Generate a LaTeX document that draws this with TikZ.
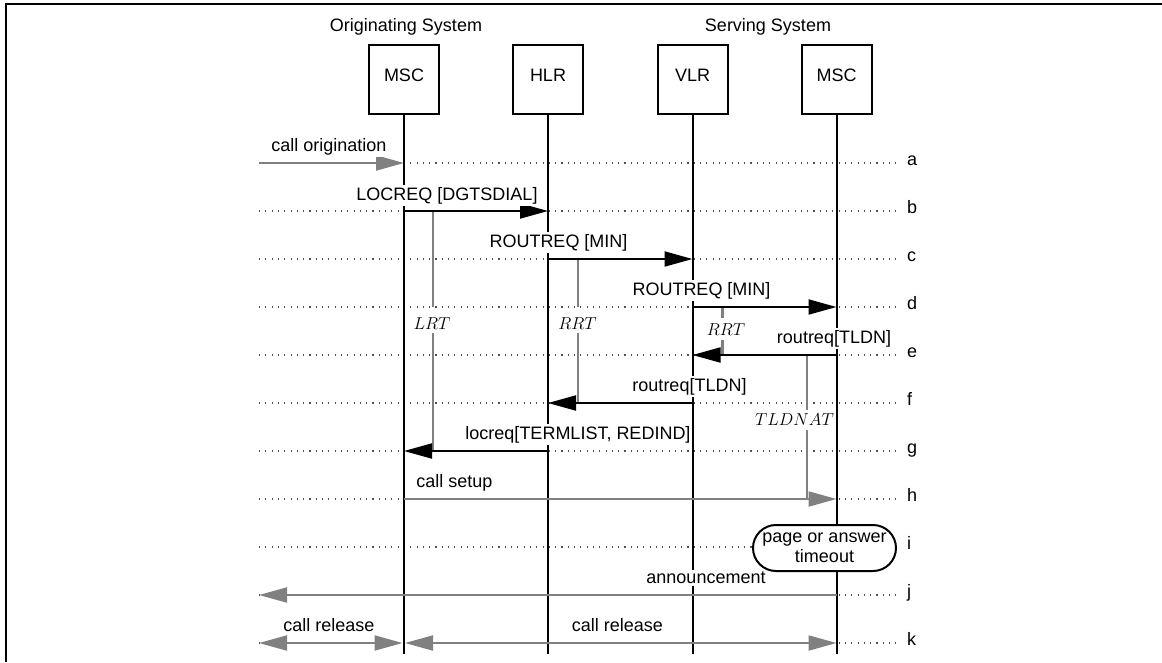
\documentclass[tikz,border=0pt]{standalone}
\usepackage{fontspec}
\setmainfont{Liberation Sans}
\usetikzlibrary{arrows.meta}
\definecolor{arrgray}{HTML}{808080}
\definecolor{dotgray}{HTML}{505050}
\begin{document}
\begin{tikzpicture}[x=1pt,y=-1pt,
  every node/.style={font=\fontsize{18}{20}\selectfont},
  ent/.style={draw, line width=2pt, fill=white, minimum width=70pt, minimum height=69pt,
              inner sep=0pt, text height=13pt, text depth=9pt},
  hdr/.style={anchor=base, inner sep=0pt},
  life/.style={line width=2pt},
  msg/.style={line width=2pt, -{Triangle[length=28pt,width=15pt]}},
  gmsg/.style={line width=2pt, draw=arrgray, -{Triangle[length=28pt,width=15pt]}},
  gboth/.style={line width=2pt, draw=arrgray, {Triangle[length=28pt,width=15pt]}-{Triangle[length=28pt,width=15pt]}},
  dotline/.style={line width=1.1pt, draw=dotgray, dash pattern=on 1.1pt off 5.2pt},
  rowlbl/.style={anchor=mid west, inner sep=0pt},
  lbl/.style={anchor=base, fill=white, inner xsep=1pt, inner ysep=2pt},
  timer/.style={line width=2pt, draw=arrgray},
  tlbl/.style={inner sep=0pt, font=\fontsize{16}{18}\selectfont},
  tobox/.style={draw, line width=2pt, fill=white, rounded corners=23pt, minimum width=143pt,
                minimum height=46pt, align=center, inner sep=0pt}
]
\useasboundingbox (0,0) rectangle (1162,662);
% frame
\draw[line width=2pt] (6,662) -- (6,4.2) -- (1162,4.2);

% headers
\node[hdr] (orig) at (406,31.5) {Originating System};
\node[hdr] (serv) at (768,31.5) {Serving System};

% entity boxes
\node[ent] (m1) at (404,79.5) {MSC};
\node[ent] (hlr) at (548,79.5) {HLR};
\node[ent] (vlr) at (692.5,79.5) {VLR};
\node[ent] (m2) at (836.5,79.5) {MSC};

% rows
\foreach \r [count=\i from 0] in {a,b,c,d,e,f,g,h,i,j,k} {
  \pgfmathsetmacro\yy{163+48*\i}
  \coordinate (L\r) at (259,\yy);
  \coordinate (R\r) at (900,\yy);
}
\coordinate (bot) at (0,654);

% dotted row lines and letters
\foreach \r in {a,b,c,d,e,f,g,h,i,j,k} {
  \draw[dotline] (L\r) -- (R\r);
  \node[rowlbl] (n\r) at ([xshift=7pt]R\r) {\r};
}

% lifelines
\draw[life] (m1.south) -- (m1.south |- bot);
\draw[life] (hlr.south) -- (hlr.south |- bot);
\draw[life] (vlr.south) -- (vlr.south |- bot);
\draw[life] (m2.south) -- (m2.south |- bot);

% timers
\coordinate (xlrt) at (433,0);
\coordinate (xrrt) at (578,0);
\coordinate (xrrs) at (722,0);
\coordinate (xtld) at (807,0);
\draw[timer] (xlrt |- Lb) -- (xlrt |- Ld) (433,333) -- (xlrt |- Lg);
\draw[timer] (xrrt |- Lc) -- (xrrt |- Ld) (578,333) -- (xrrt |- Lf);
\draw[timer, line width=3pt] (xrrs |- Ld) -- (722,318) (722,340) -- (xrrs |- Le);
\draw[timer] (xtld |- Le) -- (807,410) (807,430) -- (xtld |- Lh);
\node[tlbl] (tlrt) at (432,324) {$LRT$};
\node[tlbl] (trrt) at (577.5,324) {$RRT$};
\node[tlbl] (trrs) at (726,330) {$RRT$};
\node[tlbl] (ttld) at (794.5,420) {$TLDNAT$};

% messages
\draw[gmsg] (La) -- (m1 |- La);
\draw[msg] (m1 |- Lb) -- (hlr |- Lb);
\draw[msg] (hlr |- Lc) -- (vlr.south |- Lc);
\draw[msg] (vlr.south |- Ld) -- (m2.south |- Ld);
\draw[msg] (m2.south |- Le) -- (vlr.south |- Le);
\draw[msg] (vlr.south |- Lf) -- (hlr |- Lf);
\draw[msg] (hlr |- Lg) -- (m1 |- Lg);
\draw[gmsg] (m1 |- Lh) -- (m2.south |- Lh);
\draw[gmsg] (m2.south |- Lj) -- (Lj);
\draw[gboth] (Lk) -- ([xshift=-1.5pt]m1 |- Lk);
\draw[gboth] ([xshift=1pt]m1 |- Lk) -- (m2.south |- Lk);

% message labels
\node[lbl] (t1) at (329,151.5) {call origination};
\node[lbl] (t2) at (447,200) {LOCREQ [DGTSDIAL]};
\node[lbl] (t3) at (558.5,247.5) {ROUTREQ [MIN]};
\node[lbl] (t4) at (701.5,295.5) {ROUTREQ [MIN]};
\node[lbl] (t5) at (834,343.5) {routreq[TLDN]};
\node[lbl] (t6) at (689.5,391.5) {routreq[TLDN]};
\node[lbl] (t7) at (578,439.5) {locreq[TERMLIST, REDIND]};
\node[lbl] (t8) at (454.5,487.5) {call setup};
\node[lbl] (t9) at (706,583.5) {announcement};
\node[lbl] (t10) at (329,631.5) {call release};
\node[lbl] (t11) at (617.5,631.5) {call release};

% timeout box
\node[tobox] (to) at (824.5,548) {page or answer\\timeout};
\end{tikzpicture}
\end{document}
